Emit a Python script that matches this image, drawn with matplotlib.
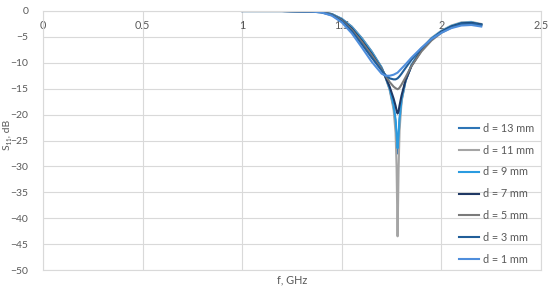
import numpy as np
import matplotlib
matplotlib.use('Agg')
import matplotlib.pyplot as plt

plt.rcParams['font.family'] = ['Lato', 'DejaVu Sans']

# frequency points, GHz
freq = [1.0, 1.2, 1.35, 1.4, 1.45, 1.5, 1.55, 1.6, 1.65, 1.7, 1.72, 1.74, 1.76, 1.77,
        1.775, 1.78, 1.785, 1.79, 1.8, 1.82, 1.85, 1.9, 1.95, 2.0, 2.05, 2.1, 2.15, 2.2]

# S11 in dB
s11_d13 = [0, 0, -0.1, -0.2, -0.6, -1.5, -3.0, -5.2, -7.8, -10.9, -12.8, -15.0, -18.5, -21.6,
           -24.5, -27.5, -24.5, -21.0, -17.2, -13.5, -10.5, -7.5, -5.4, -4.0, -3.0, -2.4, -2.2, -2.6]
s11_d11 = [0, 0, -0.1, -0.2, -0.6, -1.6, -3.1, -5.3, -7.9, -11.0, -12.9, -15.2, -19.0, -23.5,
           -30.0, -43.5, -30.5, -23.0, -17.5, -13.5, -10.4, -7.3, -5.2, -3.8, -2.8, -2.2, -2.1, -2.5]
s11_d9 = [0, 0, -0.1, -0.2, -0.6, -1.6, -3.2, -5.4, -8.0, -11.0, -12.8, -14.9, -18.2, -21.0,
          -23.6, -26.5, -24.0, -20.8, -17.0, -13.4, -10.4, -7.4, -5.3, -3.9, -2.9, -2.3, -2.2, -2.6]
s11_d7 = [0, 0, -0.1, -0.2, -0.7, -1.7, -3.4, -5.7, -8.3, -11.2, -12.8, -14.6, -16.9, -18.3,
          -19.2, -19.8, -19.3, -18.2, -16.3, -13.4, -10.6, -7.6, -5.5, -4.0, -3.0, -2.4, -2.3, -2.6]
s11_d5 = [0, 0, -0.1, -0.2, -0.7, -1.8, -3.6, -5.9, -8.5, -11.2, -12.5, -13.7, -14.6, -14.9,
          -15.0, -15.1, -15.0, -14.8, -14.2, -12.8, -10.6, -7.8, -5.7, -4.2, -3.2, -2.6, -2.5, -2.8]
s11_d3 = [0, 0, -0.1, -0.3, -0.8, -2.0, -3.9, -6.4, -9.0, -11.5, -12.4, -13.0, -13.2, -13.2,
          -13.1, -13.0, -12.8, -12.6, -12.1, -11.0, -9.4, -7.2, -5.4, -4.1, -3.1, -2.5, -2.4, -2.7]
s11_d1 = [0, 0, -0.1, -0.3, -0.9, -2.2, -4.3, -7.0, -9.8, -12.1, -12.5, -12.5, -12.3, -12.1,
          -12.0, -11.9, -11.7, -11.5, -11.1, -10.3, -9.0, -7.1, -5.4, -4.2, -3.3, -2.8, -2.7, -3.0]

labels = ['d = 13 mm', 'd = 11 mm', 'd = 9 mm', 'd = 7 mm', 'd = 5 mm', 'd = 3 mm', 'd = 1 mm']
series = [s11_d13, s11_d11, s11_d9, s11_d7, s11_d5, s11_d3, s11_d1]
colors = ['#2E75B6', '#A5A5A5', '#2A9BE0', '#1F3864', '#7A7A7A', '#215E99', '#4F8EDC']

fig = plt.figure(figsize=(5.5, 2.9), dpi=100)
ax = fig.add_axes([43 / 550, 20 / 290, 498 / 550, 259 / 290])

for s, lab, c in zip(series, labels, colors):
    ax.plot(freq, s, color=c, lw=1.5, label=lab)

ax.set_xlim(0, 2.5)
ax.set_ylim(-50, 0)
ax.set_xticks(np.arange(0, 2.51, 0.5))
ax.set_xticklabels(['0', '0.5', '1', '1.5', '2', '2.5'])
ax.set_yticks(np.arange(-50, 1, 5))
ax.grid(True, color='#D9D9D9', lw=0.8)
ax.set_axisbelow(True)
for side in ['top', 'right', 'left', 'bottom']:
    ax.spines[side].set_color('#D9D9D9')
    ax.spines[side].set_linewidth(0.8)

ax.tick_params(axis='x', bottom=False, top=False, labelbottom=False, labeltop=True,
               pad=-18, labelsize=7.8, labelcolor='#595959')
ax.tick_params(axis='y', left=False, labelsize=7.5, labelcolor='#595959', pad=7.2)

ax.set_xlabel('f, GHz', fontsize=7.8, color='#595959', labelpad=3)
ax.set_ylabel('S\u2081\u2081, dB', fontsize=7.5, color='#595959')
ax.yaxis.set_label_coords(-0.063, 0.52)

ax.legend(loc='lower right', bbox_to_anchor=(1.0, -0.005), frameon=False, fontsize=7.8,
          labelcolor='#595959', handlelength=1.9, handletextpad=0.35, labelspacing=1.0,
          borderaxespad=0.2)

fig.savefig('out.png', dpi=100)
